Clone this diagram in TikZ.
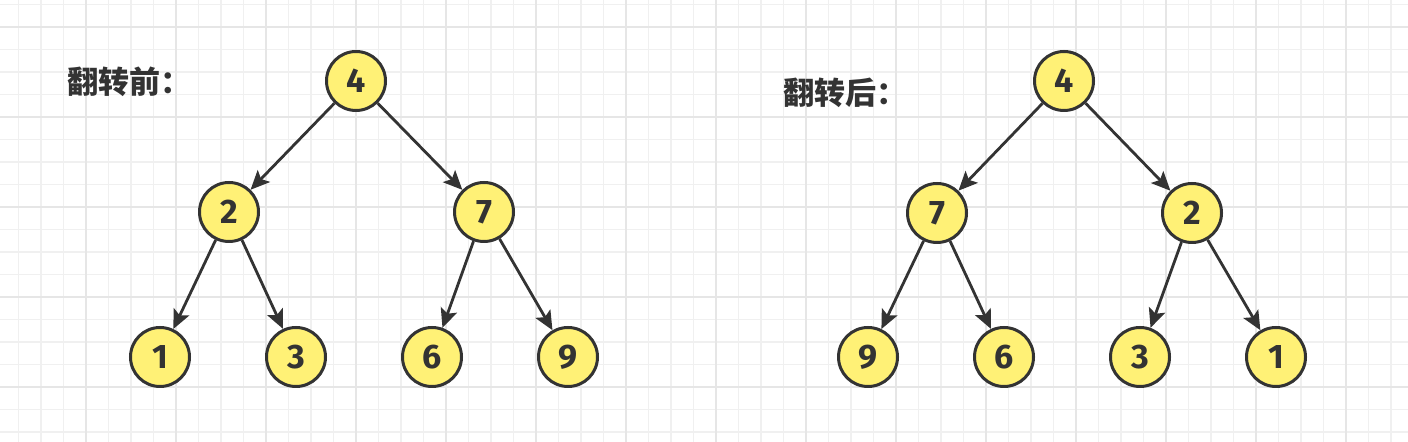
\documentclass[tikz,border=0pt]{standalone}
\usepackage{fontspec}
\usetikzlibrary{arrows.meta}
\newfontfamily\cjk{Noto Sans CJK SC}
\newfontfamily\numfont{Fira Sans}
\definecolor{ink}{HTML}{333333}
\definecolor{nodefill}{HTML}{FFF176}
\definecolor{gridminor}{HTML}{F0F0F0}
\definecolor{gridmajor}{HTML}{E6E6E6}
\tikzset{
	treenode/.style={circle,draw=ink,fill=nodefill,line width=1.5pt,minimum size=29.5pt,inner sep=0pt,text=ink,font=\numfont\bfseries\fontsize{17pt}{17pt}\selectfont},
	edge/.style={draw=ink,line width=1.4pt,-{Stealth[length=9.5pt,width=8.5pt,inset=2pt]}},
	caption/.style={anchor=west,inner sep=0pt,text=ink,font=\cjk\bfseries\fontsize{15.5pt}{15.5pt}\selectfont}
}
\begin{document}
\begin{tikzpicture}[x=0.5pt,y=-0.5pt]
				\useasboundingbox (0,0) rectangle (1408,442);
				\fill[white] (0,0) rectangle (1408,442);
				
				% background grid
				\foreach \gx in {0,...,62}
					\draw[gridminor,line width=0.6pt] ({18.5+22.5*\gx},0) -- ++(0,442);
				\foreach \gy in {0,...,19}
					\draw[gridminor,line width=0.6pt] (0,{4.5+22.5*\gy}) -- ++(1408,0);
				\foreach \gx in {0,...,14}
					\draw[gridmajor,line width=0.7pt] ({86+90*\gx},0) -- ++(0,442);
				\foreach \gy in {0,...,4}
					\draw[gridmajor,line width=0.7pt] (0,{27+90*\gy}) -- ++(1408,0);
				
				\node[caption] (before) at (67,82) {翻转前：};
				\node[caption] (after) at (783,93) {翻转后：};
				
				% before
				\node[treenode] (l4) at (356,81) {4};
				\node[treenode] (l2) at (229,212) {2};
				\node[treenode] (l7) at (484,212) {7};
				\node[treenode] (l1) at (160,357) {1};
				\node[treenode] (l3) at (296,357) {3};
				\node[treenode] (l6) at (432,357) {6};
				\node[treenode] (l9) at (568,357) {9};
				
				\draw[edge] (l4) -- (l2);
				\draw[edge] (l4) -- (l7);
				\draw[edge] (l2) -- (l1);
				\draw[edge] (l2) -- (l3);
				\draw[edge] (l7) -- (l6);
				\draw[edge] (l7) -- (l9);
				
				% after
				\node[treenode] (r4) at (1064,81) {4};
				\node[treenode] (r7) at (937,213) {7};
				\node[treenode] (r2) at (1192,213) {2};
				\node[treenode] (r9) at (868,357) {9};
				\node[treenode] (r6) at (1004,357) {6};
				\node[treenode] (r3) at (1140,357) {3};
				\node[treenode] (r1) at (1276,357) {1};
				
				\draw[edge] (r4) -- (r7);
				\draw[edge] (r4) -- (r2);
				\draw[edge] (r7) -- (r9);
				\draw[edge] (r7) -- (r6);
				\draw[edge] (r2) -- (r3);
				\draw[edge] (r2) -- (r1);
\end{tikzpicture}
\end{document}
